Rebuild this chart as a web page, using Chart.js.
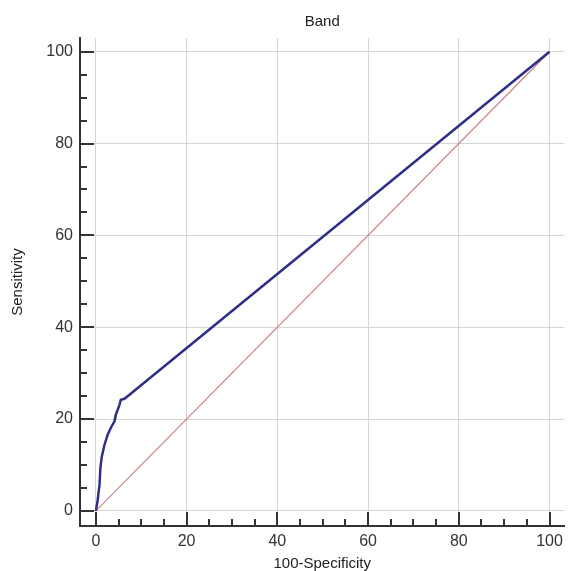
<!DOCTYPE html>
<html>
<head>
<meta charset="utf-8">
<script src="https://cdn.jsdelivr.net/npm/chart.js@4/dist/chart.umd.min.js"></script>
<style>
  html, body { margin: 0; padding: 0; background: #fff; }
  #wrap { width: 569px; height: 571px; }
</style>
</head>
<body>
<div id="wrap"><canvas id="roc"></canvas></div>
<script>
// ROC curve (100-Specificity vs Sensitivity)
const rocX = [0, 0.4, 0.8, 1.0, 1.3, 1.9, 2.6, 3.3, 4.1, 4.4, 5.2, 5.5, 6.3, 7.4, 100];
const rocY = [0, 2.4, 5.7, 9.4, 11.8, 14.4, 16.6, 18.1, 19.5, 20.9, 23.1, 24.2, 24.4, 25.3, 100];
const diagX = [0, 100];
const diagY = [0, 100];
const majorTicks = [0, 20, 40, 60, 80, 100];
const minorStep = 5;

const fontFam = '"Liberation Sans", Arial, sans-serif';

function toPoints(xs, ys) {
    return xs.map((x, i) => ({ x: x, y: ys[i] }));
}

// ticks drawn inward from the axis lines, like the original
const innerTicks = {
    id: 'innerTicks',
    afterDraw(chart) {
        const ctx = chart.ctx;
        const area = chart.chartArea;
        const sx = chart.scales.x;
        const sy = chart.scales.y;
        ctx.save();
        ctx.strokeStyle = '#333';
        ctx.lineWidth = 2;
        for (let v = 0; v <= 100; v += minorStep) {
            const len = v % 20 === 0 ? 14 : 7;
            const px = Math.round(sx.getPixelForValue(v));
            ctx.beginPath();
            ctx.moveTo(px, area.bottom);
            ctx.lineTo(px, area.bottom - len);
            ctx.stroke();
            const py = Math.round(sy.getPixelForValue(v));
            ctx.beginPath();
            ctx.moveTo(area.left, py);
            ctx.lineTo(area.left + len, py);
            ctx.stroke();
        }
        ctx.restore();
    }
};

new Chart(document.getElementById('roc'), {
    type: 'scatter',
    data: {
        datasets: [
            {
                data: toPoints(diagX, diagY),
                showLine: true,
                borderColor: '#c98585',
                borderWidth: 1.2,
                pointRadius: 0,
                order: 2
            },
            {
                data: toPoints(rocX, rocY),
                showLine: true,
                borderColor: '#2f2f88',
                borderWidth: 2.5,
                pointRadius: 0,
                order: 1
            }
        ]
    },
    options: {
        responsive: true,
        maintainAspectRatio: false,
        animation: false,
        layout: { padding: { left: 0, right: 0, top: 0, bottom: 0 } },
        plugins: {
            legend: { display: false },
            tooltip: { enabled: false },
            title: {
                display: true,
                fullSize: false,
                text: 'Band',
                color: '#222',
                font: { family: fontFam, size: 15, weight: 'normal' },
                padding: { top: 13, bottom: 7 }
            }
        },
        scales: {
            x: {
                type: 'linear',
                min: -3.5,
                max: 103.3,
                afterBuildTicks: s => { s.ticks = majorTicks.map(v => ({ value: v })); },
                afterFit: s => { s.height = 45; },
                grid: { color: '#d6d6d6', lineWidth: 1, drawTicks: false },
                border: { display: true, color: '#333', width: 2 },
                ticks: {
                    color: '#333',
                    padding: 6,
                    maxRotation: 0,
                    font: { family: fontFam, size: 16 }
                },
                title: {
                    display: true,
                    text: '100-Specificity',
                    color: '#222',
                    padding: { top: 0, bottom: -2 },
                    font: { family: fontFam, size: 15 }
                }
            },
            y: {
                type: 'linear',
                min: -3.3,
                max: 103,
                afterBuildTicks: s => { s.ticks = majorTicks.map(v => ({ value: v })); },
                afterFit: s => { s.width = 80; },
                grid: { color: '#d6d6d6', lineWidth: 1, drawTicks: false },
                border: { display: true, color: '#333', width: 2 },
                ticks: {
                    color: '#333',
                    padding: 7,
                    font: { family: fontFam, size: 16 }
                },
                title: {
                    display: true,
                    text: 'Sensitivity',
                    color: '#222',
                    padding: { top: 9, bottom: 0 },
                    font: { family: fontFam, size: 15 }
                }
            }
        }
    },
    plugins: [innerTicks]
});
</script>
</body>
</html>
